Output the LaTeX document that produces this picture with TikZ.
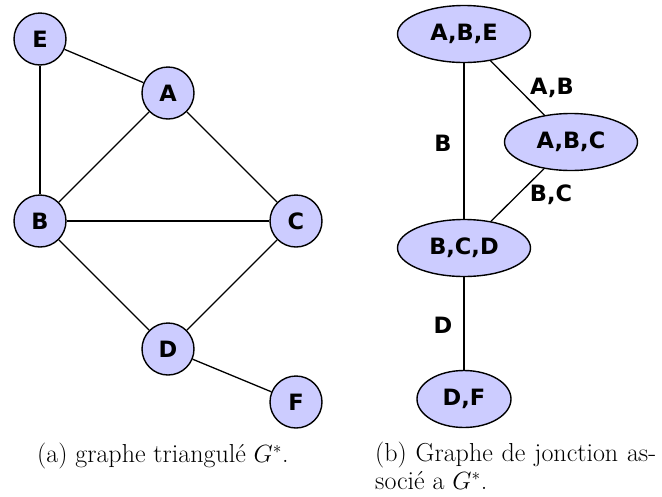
\documentclass[tikz,border=0pt]{standalone}
\usepackage{fontspec}
\setsansfont{DejaVu Sans}
\usetikzlibrary{shapes.geometric}
\definecolor{nodefill}{RGB}{204,204,255}
\tikzset{
  vert/.style={circle,draw=black,line width=1.4pt,fill=nodefill,minimum size=52pt,inner sep=0pt,font=\fontsize{22.5}{24}\sffamily\bfseries},
  clique/.style={ellipse,draw=black,line width=1.4pt,fill=nodefill,minimum width=133pt,minimum height=57pt,inner sep=0pt,font=\fontsize{22.5}{24}\sffamily\bfseries},
  edge/.style={line width=1.3pt,draw=black},
  elabel/.style={font=\fontsize{22.5}{24}\sffamily\bfseries,inner sep=0pt},
  capt/.style={font=\fontsize{26}{28}\selectfont,inner sep=0pt,anchor=north west}
}
\begin{document}
\begin{tikzpicture}[x=1pt,y=-1pt]
\useasboundingbox (0,0) rectangle (662,496);
% left graph
\node[vert] (E) at (40,39) {E};
\node[vert] (A) at (168,93) {A};
\node[vert] (B) at (40,221) {B};
\node[vert] (C) at (296,221) {C};
\node[vert] (D) at (168,349) {D};
\node[vert] (F) at (296,402) {F};
\draw[edge] (E) -- (A);
\draw[edge] (E) -- (B);
\draw[edge] (A) -- (B);
\draw[edge] (A) -- (C);
\draw[edge] (B) -- (C);
\draw[edge] (B) -- (D);
\draw[edge] (C) -- (D);
\draw[edge] (D) -- (F);
% right graph
\node[clique] (ABE) at (464,34) {A,B,E};
\node[clique] (ABC) at (571,142) {A,B,C};
\node[clique] (BCD) at (464,248) {B,C,D};
\node[clique,minimum width=94pt] (DF) at (464,399) {D,F};
\draw[edge] (ABE) -- (BCD);
\draw[edge] (ABE) -- (ABC);
\draw[edge] (ABC) -- (BCD);
\draw[edge] (BCD) -- (DF);
\node[elabel] (lab1) at (552,88) {A,B};
\node[elabel] (lab2) at (443,143) {B};
\node[elabel] (lab3) at (551,195) {B,C};
\node[elabel] (lab4) at (443,325) {D};
% captions
\node[capt] (capa) at (37,443) {(a) graphe triangulé $G^*$.};
\node[capt] (capb) at (375,442) {\parbox[t]{281pt}{\fontsize{26}{28}\selectfont (b) Graphe de jonction as-\linebreak socié a $G^*$.}};
\end{tikzpicture}
\end{document}
